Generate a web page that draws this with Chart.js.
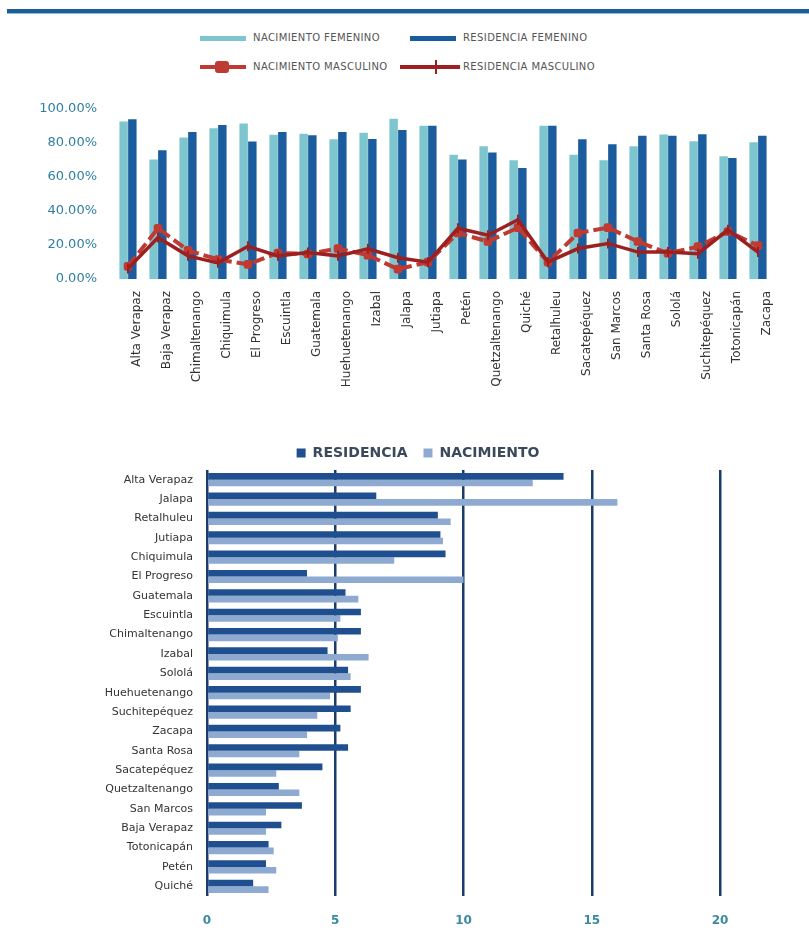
<!DOCTYPE html>
<html>
<head>
<meta charset="utf-8">
<script src="https://cdn.jsdelivr.net/npm/chart.js@4"></script>
<style>
  html, body { margin:0; padding:0; background:#fff; }
  body { width:809px; height:936px; position:relative; overflow:hidden; font-family:"DejaVu Sans", sans-serif; }
  #topline { position:absolute; left:7px; right:0; top:9px; height:4px; background:#1f5a9a; border-bottom:1px solid #7fc8d4; }
  .lg { position:absolute; font-size:10px; color:#555; letter-spacing:0.4px; white-space:nowrap; line-height:12px; }
  .sw { position:absolute; }
  #c1 { position:absolute; left:0; top:85px; }
  #c2 { position:absolute; left:0; top:430px; }
</style>
</head>
<body>
<div id="topline"></div>
<div id="legendTop"></div>
<canvas id="c1" width="809" height="335"></canvas>
<canvas id="c2" width="809" height="506"></canvas>
<script>
// ---------- Top chart data ----------
const topCategories = ['Alta Verapaz','Baja Verapaz','Chimaltenango','Chiquimula','El Progreso','Escuintla','Guatemala','Huehuetenango','Izabal','Jalapa','Jutiapa','Petén','Quetzaltenango','Quiché','Retalhuleu','Sacatepéquez','San Marcos','Santa Rosa','Sololá','Suchitepéquez','Totonicapán','Zacapa'];
const nacimientoFemenino = [92.6, 70.2, 83.2, 88.5, 91.4, 84.7, 85.3, 82.1, 86.0, 94.2, 90.1, 73.0, 78.0, 69.8, 90.1, 73.0, 69.8, 78.0, 84.9, 81.0, 72.1, 80.4];
const residenciaFemenino = [93.8, 75.6, 86.4, 90.5, 80.8, 86.4, 84.4, 86.4, 82.3, 87.5, 90.1, 70.2, 74.3, 65.2, 90.1, 82.1, 79.1, 84.2, 84.2, 85.1, 71.1, 84.2];
const nacimientoMasculino = [7.4, 29.8, 16.8, 11.5, 8.6, 15.3, 14.7, 17.9, 14.0, 5.8, 9.9, 27.0, 22.0, 30.2, 9.9, 27.0, 30.2, 22.0, 15.1, 19.0, 27.9, 19.6];
const residenciaMasculino = [6.2, 24.4, 13.6, 9.5, 19.2, 13.6, 15.6, 13.6, 17.7, 12.5, 9.9, 29.8, 25.7, 34.8, 9.9, 17.9, 20.9, 15.8, 15.8, 14.9, 28.9, 15.8];
const topTicks = [0, 20, 40, 60, 80, 100];
const topLegendLabels = ['NACIMIENTO FEMENINO','RESIDENCIA FEMENINO','NACIMIENTO MASCULINO','RESIDENCIA MASCULINO'];

// ---------- Bottom chart data ----------
const bottomCategories = ['Alta Verapaz','Jalapa','Retalhuleu','Jutiapa','Chiquimula','El Progreso','Guatemala','Escuintla','Chimaltenango','Izabal','Sololá','Huehuetenango','Suchitepéquez','Zacapa','Santa Rosa','Sacatepéquez','Quetzaltenango','San Marcos','Baja Verapaz','Totonicapán','Petén','Quiché'];
const residencia = [13.9, 6.6, 9.0, 9.1, 9.3, 3.9, 5.4, 6.0, 6.0, 4.7, 5.5, 6.0, 5.6, 5.2, 5.5, 4.5, 2.8, 3.7, 2.9, 2.4, 2.3, 1.8];
const nacimiento = [12.7, 16.0, 9.5, 9.2, 7.3, 10.0, 5.9, 5.2, 5.1, 6.3, 5.6, 4.8, 4.3, 3.9, 3.6, 2.7, 3.6, 2.3, 2.3, 2.6, 2.7, 2.4];
const bottomTicks = [0, 5, 10, 15, 20];

const C_LIGHT = '#7ec6cf', C_DARK = '#1b5c9e', C_NACM = '#bf3a32', C_RESM = '#9e1f1f';
const C_RES = '#1f4f8f', C_NAC = '#8eaad0', C_GRID = '#1d3c6e';

// ---------- Top HTML legend ----------
(function(){
  const L = document.getElementById('legendTop');
  function add(html){ L.insertAdjacentHTML('beforeend', html); }
  add(`<div class="sw" style="left:200px;top:36px;width:46px;height:5px;background:${C_LIGHT}"></div>`);
  add(`<div class="lg" style="left:253px;top:32px">${topLegendLabels[0]}</div>`);
  add(`<div class="sw" style="left:410px;top:36px;width:46px;height:5px;background:${C_DARK}"></div>`);
  add(`<div class="lg" style="left:463px;top:32px">${topLegendLabels[1]}</div>`);
  add(`<div class="sw" style="left:200px;top:65px;width:46px;height:4px;background:${C_NACM}"></div>`);
  add(`<div class="sw" style="left:215px;top:61px;width:14px;height:12px;border-radius:3px;background:${C_NACM}"></div>`);
  add(`<div class="lg" style="left:253px;top:61px">${topLegendLabels[2]}</div>`);
  add(`<div class="sw" style="left:400px;top:65px;width:60px;height:4px;background:${C_RESM}"></div>`);
  add(`<div class="sw" style="left:435px;top:60px;width:2px;height:14px;background:${C_RESM}"></div>`);
  add(`<div class="lg" style="left:463px;top:61px">${topLegendLabels[3]}</div>`);
})();

// ---------- Top chart ----------
new Chart(document.getElementById('c1'), {
  data: {
    labels: topCategories,
    datasets: [
      { type:'bar', label: topLegendLabels[0], data: nacimientoFemenino, backgroundColor:C_LIGHT, categoryPercentage:0.58, barPercentage:0.97, order:2 },
      { type:'bar', label: topLegendLabels[1], data: residenciaFemenino, backgroundColor:C_DARK, categoryPercentage:0.58, barPercentage:0.97, order:3 },
      { type:'line', label: topLegendLabels[2], data: nacimientoMasculino, borderColor:C_NACM, backgroundColor:C_NACM,
        borderWidth:4, borderDash:[12,5], pointStyle:'rectRounded', pointRadius:5, pointBackgroundColor:C_NACM, pointBorderWidth:0, order:1, tension:0 },
      { type:'line', label: topLegendLabels[3], data: residenciaMasculino, borderColor:C_RESM, backgroundColor:C_RESM,
        borderWidth:3.5, pointStyle:'line', pointRotation:90, pointRadius:5, pointBorderWidth:2, pointBorderColor:C_RESM, order:0, tension:0 }
    ]
  },
  options: {
    responsive:false, animation:false,
    layout:{ padding:{ top:15, right:36, left:0, bottom:0 } },
    plugins:{ legend:{ display:false }, tooltip:{ enabled:false } },
    scales:{
      x:{
        grid:{ display:false, drawTicks:false }, border:{ display:false },
        ticks:{ autoSkip:false, minRotation:90, maxRotation:90, padding:12, labelOffset:9,
          color:'#333', font:{ family:'DejaVu Sans', size:12 } },
        afterFit: s => { s.height = 141; }
      },
      y:{
        min:0, max:100,
        afterBuildTicks: s => { s.ticks = topTicks.map(v => ({ value:v })); },
        grid:{ display:false, drawTicks:false }, border:{ display:false },
        ticks:{ padding:16, color:'#2f7fa3', font:{ family:'DejaVu Sans', size:13 },
          callback: v => v.toFixed(2) + '%' },
        afterFit: s => { s.width = 113; }
      }
    }
  }
});

// ---------- Bottom chart ----------
const shiftLegend = {
  id:'shiftLegend',
  afterLayout(chart){ const l = chart.legend; if (l) { l.left += 58; l.right += 58; } }
};
new Chart(document.getElementById('c2'), {
  type:'bar',
  data: {
    labels: bottomCategories,
    datasets: [
      { label:'RESIDENCIA', data: residencia, backgroundColor:C_RES, categoryPercentage:0.68, barPercentage:1.0 },
      { label:'NACIMIENTO', data: nacimiento, backgroundColor:C_NAC, categoryPercentage:0.68, barPercentage:1.0 }
    ]
  },
  plugins:[shiftLegend],
  options: {
    indexAxis:'y', responsive:false, animation:false,
    layout:{ padding:{ top:0, right:89, left:0, bottom:0 } },
    plugins:{
      tooltip:{ enabled:false },
      legend:{ display:true, position:'top', align:'center',
        labels:{ boxWidth:9, boxHeight:9, padding:16, color:'#3a4a5c',
          font:{ family:'DejaVu Sans', size:14, weight:'bold' } } }
    },
    scales:{
      x:{
        min:0, max:20,
        afterBuildTicks: s => { s.ticks = bottomTicks.map(v => ({ value:v })); },
        grid:{ display:true, color:C_GRID, lineWidth:2.5, drawTicks:false },
        border:{ display:false },
        ticks:{ padding:18, color:'#3a8aa0', font:{ family:'DejaVu Sans', size:12, weight:'bold' } },
        afterFit: s => { s.height = 40; }
      },
      y:{
        grid:{ display:false, drawTicks:false }, border:{ display:false },
        ticks:{ autoSkip:false, padding:14, color:'#333', font:{ family:'DejaVu Sans', size:11 } },
        afterFit: s => { s.width = 207; }
      }
    }
  }
});
</script>
</body>
</html>
